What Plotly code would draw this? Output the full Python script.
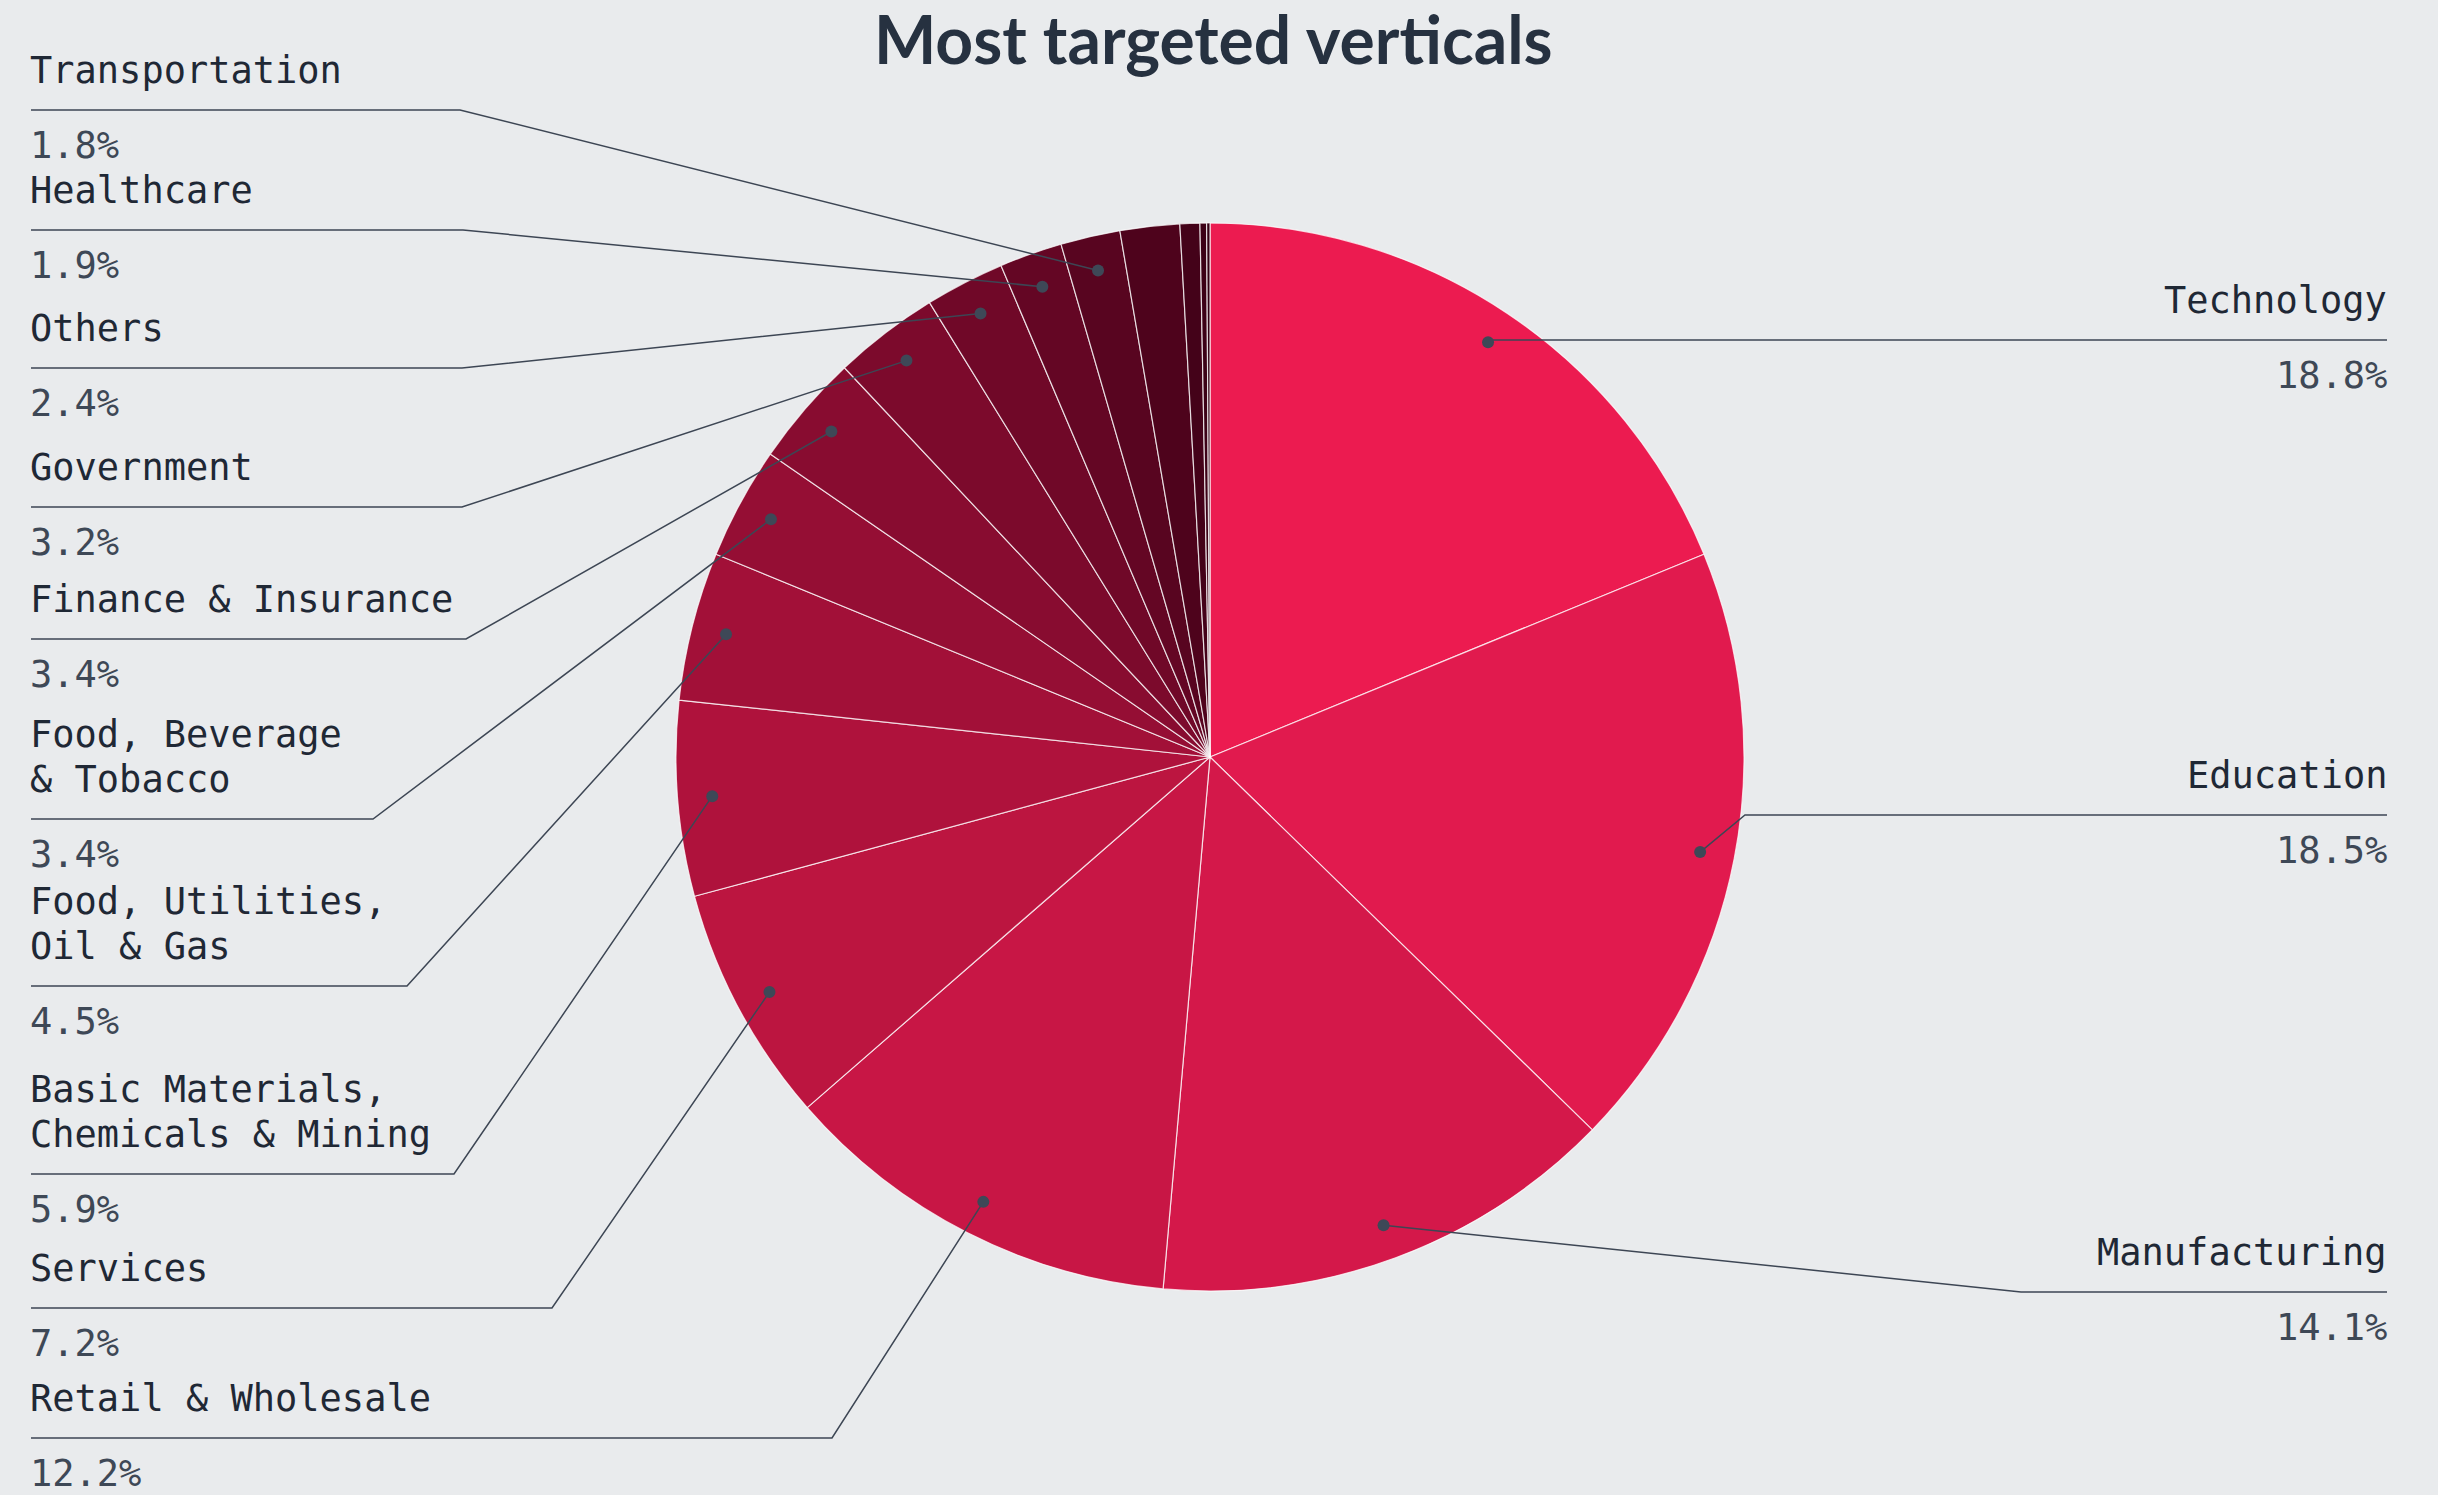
import math
import plotly.graph_objects as go

# ---------------- data ----------------
categories = [
    "Technology", "Education", "Manufacturing", "Retail & Wholesale", "Services",
    "Basic Materials, Chemicals & Mining", "Food, Utilities, Oil & Gas",
    "Food, Beverage & Tobacco", "Finance & Insurance", "Government", "Others",
    "Healthcare", "Transportation", "Unlisted A", "Unlisted B", "Unlisted C", "Unlisted D",
]
values = [18.8, 18.5, 14.1, 12.2, 7.2, 5.9, 4.5, 3.4, 3.4, 3.2, 2.4, 1.9, 1.8,
          1.8, 0.6, 0.2, 0.1]
value_labels = ["18.8%", "18.5%", "14.1%", "12.2%", "7.2%", "5.9%", "4.5%", "3.4%",
                "3.4%", "3.2%", "2.4%", "1.9%", "1.8%"]
label_lines = {
    "Food, Beverage & Tobacco": ["Food, Beverage", "& Tobacco"],
    "Food, Utilities, Oil & Gas": ["Food, Utilities,", "Oil & Gas"],
    "Basic Materials, Chemicals & Mining": ["Basic Materials,", "Chemicals & Mining"],
}

# ---------------- styles / layout ----------------
colors = ["#EC1B50", "#E11A4E", "#D4184A", "#C81645", "#BC1540", "#AF123C", "#A21038",
          "#950E34", "#880C30", "#7C0A2C", "#700828", "#640624", "#580520", "#4E031C",
          "#440219", "#3C0116", "#340014"]
W, H = 2438, 1495
CX, CY, R = 1210, 757, 534
DOT_R = 0.935
BG = "#E9EBED"
TXT = "#1F2835"
VAL = "#3E4856"
LINE = "#3D4654"
FONT = "DejaVu Sans Mono"
FS = 37

# label layout (pixel positions of the label rule lines and their elbows)
left_order = ["Transportation", "Healthcare", "Others", "Government", "Finance & Insurance",
              "Food, Beverage & Tobacco", "Food, Utilities, Oil & Gas",
              "Basic Materials, Chemicals & Mining", "Services", "Retail & Wholesale"]
left_line_y = [110, 230, 368, 507, 639, 819, 986, 1174, 1308, 1438]
left_elbow_x = [460, 463, 462, 462, 466, 373, 407, 454, 552, 832]
LEFT_X = 31

right_order = ["Technology", "Education", "Manufacturing"]
right_line_y = [340, 815, 1292]
right_elbow_x = [None, 1745, 2021]
RIGHT_X = 2387

fig = go.Figure()

fig.add_trace(go.Pie(
    labels=categories, values=values, sort=False, direction="clockwise", rotation=0,
    marker=dict(colors=colors, line=dict(color="rgba(255,255,255,0.75)", width=1.2)),
    textinfo="none", hoverinfo="label+percent", showlegend=False,
    domain=dict(x=[(CX - R) / W, (CX + R) / W], y=[1 - (CY + R) / H, 1 - (CY - R) / H]),
))

# anchor points from data
total = sum(values)
anchors = {}
cum = 0.0
for c, v in zip(categories, values):
    th = 2 * math.pi * (cum + v / 2) / total
    anchors[c] = (CX + DOT_R * R * math.sin(th), CY - DOT_R * R * math.cos(th))
    cum += v

val_of = dict(zip(categories, value_labels))
shapes = []
annotations = []


def add_text(x, y, text, color, anchor):
    annotations.append(dict(
        x=x, y=y, xref="x", yref="y", text=text, showarrow=False,
        xanchor=anchor, yanchor="middle",
        font=dict(family=FONT, size=FS, color=color)))


for name, ly, ex in zip(left_order, left_line_y, left_elbow_x):
    dx, dy = anchors[name]
    shapes.append(dict(type="path", xref="x", yref="y", layer="above",
                       path=f"M {LEFT_X},{ly} L {ex},{ly} L {dx:.1f},{dy:.1f}",
                       line=dict(color=LINE, width=1.5)))
    shapes.append(dict(type="circle", xref="x", yref="y", layer="above",
                       x0=dx - 6, x1=dx + 6, y0=dy - 6, y1=dy + 6,
                       fillcolor="#3E4857", line=dict(width=0)))
    lines = label_lines.get(name, [name])
    for i, t in enumerate(reversed(lines)):
        add_text(LEFT_X - 3, ly - 40 - 45 * i, t, TXT, "left")
    add_text(LEFT_X - 3, ly + 35, val_of[name], VAL, "left")

for name, ly, ex in zip(right_order, right_line_y, right_elbow_x):
    dx, dy = anchors[name]
    exx = dx if ex is None else ex
    shapes.append(dict(type="path", xref="x", yref="y", layer="above",
                       path=f"M {dx:.1f},{dy:.1f} L {exx:.1f},{ly} L {RIGHT_X},{ly}",
                       line=dict(color=LINE, width=1.5)))
    shapes.append(dict(type="circle", xref="x", yref="y", layer="above",
                       x0=dx - 6, x1=dx + 6, y0=dy - 6, y1=dy + 6,
                       fillcolor="#3E4857", line=dict(width=0)))
    add_text(RIGHT_X + 2, ly - 40, name, TXT, "right")
    add_text(RIGHT_X + 2, ly + 35, val_of[name], VAL, "right")

annotations.append(dict(
    x=1213, y=38, xref="x", yref="y", text="<b>Most targeted verticals</b>",
    showarrow=False, xanchor="center", yanchor="middle",
    font=dict(family="Lato", size=66, color="#263140")))

fig.update_layout(
    width=W, height=H, margin=dict(l=0, r=0, t=0, b=0),
    paper_bgcolor=BG, plot_bgcolor=BG,
    xaxis=dict(range=[0, W], visible=False, fixedrange=True, domain=[0, 1]),
    yaxis=dict(range=[H, 0], visible=False, fixedrange=True, domain=[0, 1]),
    shapes=shapes, annotations=annotations,
)

fig.write_html(
    "out.html",
    config={"displayModeBar": False},
    post_script="document.body.style.margin='0';document.body.style.background='#E9EBED';"
                "document.body.style.overflow='hidden';",
)
